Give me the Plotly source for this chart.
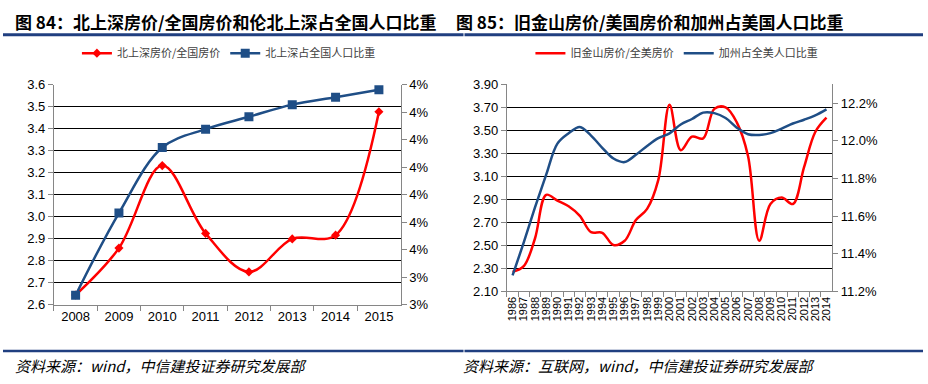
import plotly.graph_objects as go

W, H = 928, 384

# ---------------- data: left chart (图 84) ----------------
years_l = ["2008", "2009", "2010", "2011", "2012", "2013", "2014", "2015"]
bss_price_ratio = [2.645, 2.858, 3.233, 2.925, 2.750, 2.900, 2.917, 3.478]
bss_pop_share = [3.335, 3.634, 3.872, 3.939, 3.984, 4.028, 4.055, 4.082]  # %
left_y_ticks = [2.6, 2.7, 2.8, 2.9, 3.0, 3.1, 3.2, 3.3, 3.4, 3.5, 3.6]
right_y_ticks_l = [3.3, 3.4, 3.5, 3.6, 3.7, 3.8, 3.9, 4.0, 4.1]
right_y_text_l = ["3%", "3%", "4%", "4%", "4%", "4%", "4%", "4%", "4%"]

# ---------------- data: right chart (图 85) ----------------
years_r = [str(y) for y in range(1986, 2015)]
sf_price_ratio = [2.27, 2.32, 2.56, 2.94, 2.89, 2.84, 2.757, 2.615, 2.61, 2.503,
                  2.54, 2.72, 2.818, 3.07, 3.723, 3.328, 3.445, 3.43, 3.687, 3.70,
                  3.57, 3.278, 2.54, 2.86, 2.916, 2.86, 3.18, 3.486, 3.61]
ca_pop_share = [11.285, 11.461, 11.646, 11.82, 11.985, 12.04, 12.074, 12.028, 11.963, 11.906,
                11.887, 11.926, 11.973, 12.014, 12.04, 12.087, 12.116, 12.15, 12.147, 12.121,
                12.07, 12.035, 12.031, 12.041, 12.065, 12.092, 12.112, 12.135, 12.167]
right_left_ticks = [2.10, 2.30, 2.50, 2.70, 2.90, 3.10, 3.30, 3.50, 3.70, 3.90]
right_right_ticks = [11.2, 11.4, 11.6, 11.8, 12.0, 12.2]

RED = "#FF0000"
BLUE = "#1F4E86"
NAVY = "#203F80"
AXIS = "#868686"
TICKFONT = dict(family="Liberation Sans Narrow, Arial Narrow, Liberation Sans, Arial", size=13, color="#000")
CJK = "Noto Sans CJK SC, Noto Sans CJK JP, sans-serif"


def px(x):
    return x / W


def py(y):
    return 1 - y / H


fig = go.Figure()

fig.add_trace(go.Scatter(
    x=years_l, y=bss_price_ratio, name="北上深房价/全国房价",
    mode="lines+markers", line=dict(color=RED, width=2.5, shape="spline", smoothing=1),
    marker=dict(symbol="diamond", size=7, color=RED),
    xaxis="x", yaxis="y", legend="legend"))
fig.add_trace(go.Scatter(
    x=years_l, y=bss_pop_share, name="北上深占全国人口比重",
    mode="lines+markers", line=dict(color=BLUE, width=2.5, shape="spline", smoothing=1),
    marker=dict(symbol="square", size=9, color=BLUE),
    xaxis="x", yaxis="y2", legend="legend"))

fig.add_trace(go.Scatter(
    x=years_r, y=sf_price_ratio, name="旧金山房价/全美房价",
    mode="lines", line=dict(color=RED, width=2.5, shape="spline", smoothing=1),
    xaxis="x2", yaxis="y3", legend="legend2"))
fig.add_trace(go.Scatter(
    x=years_r, y=ca_pop_share, name="加州占全美人口比重",
    mode="lines", line=dict(color=BLUE, width=2.5, shape="spline", smoothing=1),
    xaxis="x2", yaxis="y4", legend="legend2"))

common_x = dict(type="category", showline=True, linecolor=AXIS, linewidth=1,
                ticks="outside", tickson="boundaries", ticklen=5, tickcolor=AXIS,
                showgrid=False, zeroline=False)
common_y = dict(showline=True, linecolor=AXIS, linewidth=1, ticks="outside", ticklen=5,
                tickcolor=AXIS, zeroline=False, tickfont=TICKFONT)

fig.update_layout(
    width=W, height=H, margin=dict(l=0, r=0, t=0, b=0),
    paper_bgcolor="white", plot_bgcolor="white",
    xaxis=dict(domain=[px(53), px(400)], anchor="y", range=[-0.5, 7.5],
               tickfont=TICKFONT, **common_x),
    yaxis=dict(domain=[py(310), py(81)], anchor="x", range=[2.6, 3.6],
               tickvals=left_y_ticks, tickformat=".1f",
               showgrid=True, gridcolor="#000", gridwidth=1, **common_y),
    yaxis2=dict(overlaying="y", side="right", anchor="x", range=[3.3, 4.1],
                tickvals=right_y_ticks_l, ticktext=right_y_text_l, showgrid=False, **common_y),
    xaxis2=dict(domain=[px(506.5), px(832)], anchor="y3", range=[-0.5, 28.5],
                tickmode="array", tickvals=years_r, ticktext=years_r,
                tickangle=-90, tickfont=dict(TICKFONT, size=11), **common_x),
    yaxis3=dict(domain=[py(296), py(80.5)], anchor="x2", range=[2.1, 3.9],
                tickvals=right_left_ticks, tickformat=".2f",
                showgrid=True, gridcolor="#000", gridwidth=1, **common_y),
    yaxis4=dict(overlaying="y3", side="right", anchor="x2", range=[11.2, 12.3],
                tickvals=right_right_ticks, ticktext=[f"{v:.1f}%" for v in right_right_ticks],
                showgrid=False, **common_y),
    legend=dict(orientation="h", x=px(76), y=py(48), xanchor="left", yanchor="middle",
                font=dict(family=CJK, size=11, color="#404040"), bgcolor="rgba(0,0,0,0)",
                itemwidth=30),
    legend2=dict(orientation="h", x=px(530), y=py(48), xanchor="left", yanchor="middle",
                 font=dict(family=CJK, size=11, color="#404040"), bgcolor="rgba(0,0,0,0)",
                 itemwidth=30),
    showlegend=True,
)

# titles
fig.add_annotation(x=px(12), y=py(15), xref="paper", yref="paper", xanchor="left", yanchor="middle",
                   text="<b>图 84：北上深房价/全国房价和伦北上深占全国人口比重</b>", showarrow=False,
                   font=dict(family=CJK, size=17, color="#000"))
fig.add_annotation(x=px(453), y=py(15), xref="paper", yref="paper", xanchor="left", yanchor="middle",
                   text="<b>图 85：旧金山房价/美国房价和加州占美国人口比重</b>", showarrow=False,
                   font=dict(family=CJK, size=17, color="#000"))
# sources
fig.add_annotation(x=px(12), y=py(373), xref="paper", yref="paper", xanchor="left", yanchor="middle",
                   text="<i>资料来源：wind，中信建投证券研究发展部</i>", showarrow=False,
                   font=dict(family=CJK, size=15, color="#000"))
fig.add_annotation(x=px(460), y=py(373), xref="paper", yref="paper", xanchor="left", yanchor="middle",
                   text="<i>资料来源：互联网，wind，中信建投证券研究发展部</i>", showarrow=False,
                   font=dict(family=CJK, size=15, color="#000"))

# rules
for (x0, x1) in [(2, 463), (464, 923)]:
    fig.add_shape(type="line", xref="paper", yref="paper", x0=px(x0), x1=px(x1), y0=py(29), y1=py(29),
                  line=dict(color=NAVY, width=3))
    fig.add_shape(type="line", xref="paper", yref="paper", x0=px(x0), x1=px(x1), y0=py(358), y1=py(358),
                  line=dict(color=NAVY, width=2.5))

fig.write_html("out.html", config={"displayModeBar": False},
               post_script="document.body.style.margin='0';")
